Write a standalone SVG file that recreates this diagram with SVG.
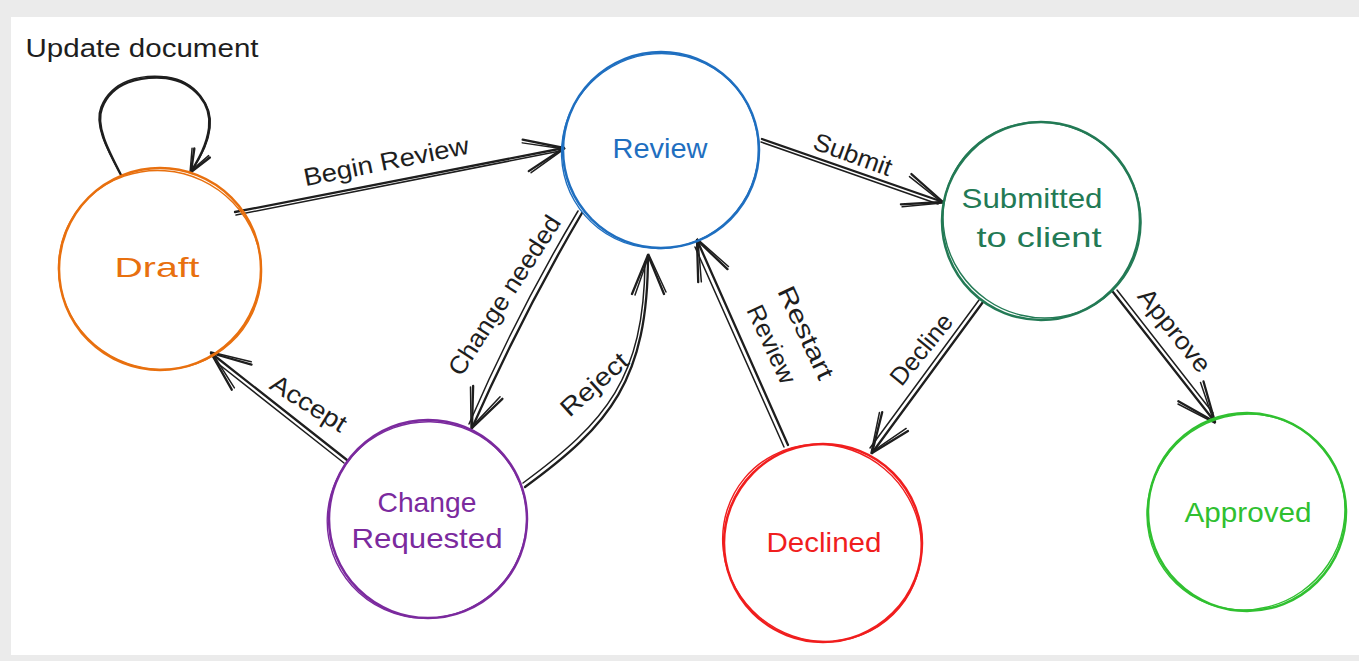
<svg xmlns="http://www.w3.org/2000/svg" width="1359" height="661" viewBox="0 0 1359 661">
<style>
  text { font-family: "Liberation Sans", "DejaVu Sans", sans-serif; }
  .nt { font-size: 28px; text-anchor: middle; }
  .lb { font-size: 25px; text-anchor: middle; dominant-baseline: central; fill: #1e1e1e; }
  .ring { fill: none; stroke-width: 2.5; }
  .ring2 { fill: none; stroke-width: 1.4; }
  .c { fill: none; stroke: #1e1e1e; stroke-width: 2.3; stroke-linecap: round; stroke-linejoin: round; }
  .c2 { fill: none; stroke: #1e1e1e; stroke-width: 1.5; stroke-linecap: round; }
</style>
<defs>
  <marker id="ah" markerUnits="userSpaceOnUse" viewBox="-50 -25 60 50" markerWidth="60" markerHeight="50" refX="0" refY="0" orient="auto" overflow="visible">
    <path d="M-39,-16 L0,0 L-39,16" fill="none" stroke="#1e1e1e" stroke-width="2.3" stroke-linecap="round" stroke-linejoin="round"/>
    <path d="M-40,-13 L0,1 L-37,18" fill="none" stroke="#1e1e1e" stroke-width="1.5" stroke-linecap="round"/>
  </marker>
  <marker id="ahs" markerUnits="userSpaceOnUse" viewBox="-30 -15 40 30" markerWidth="40" markerHeight="30" refX="0" refY="0" orient="auto" overflow="visible">
    <path d="M-22,-9 L0,0 L-22,9" fill="none" stroke="#1e1e1e" stroke-width="2.4" stroke-linecap="round" stroke-linejoin="round"/>
    <path d="M-23,-7 L0,1 L-21,11" fill="none" stroke="#1e1e1e" stroke-width="1.5" stroke-linecap="round"/>
  </marker>
</defs>

<rect x="0" y="0" width="1359" height="661" fill="#ebebeb"/>
<rect x="11" y="17" width="1348" height="638" fill="#ffffff"/>

<g id="connectors">
  <!-- self loop on Draft -->
  <path class="c" d="M121,175 C108,150 95,125 102,108 C112,82 140,76 166,78 C195,82 212,105 209,128 C207,145 198,160 191,172" marker-end="url(#ahs)"/>
  <path class="c2" d="M120,173 C106,148 94,124 101,107 C112,80 141,74 167,77 C196,81 213,106 210,128 C208,146 199,160 192,170"/>
  <!-- Begin Review -->
  <path class="c" d="M235,212 L564,148" marker-end="url(#ah)"/>
  <path class="c2" d="M236,215 L560,151"/>
  <!-- Submit -->
  <path class="c" d="M762,139 L943,202" marker-end="url(#ah)"/>
  <path class="c2" d="M761,142 L938,204"/>
  <!-- Change needed -->
  <path class="c" d="M582,213 Q522,315 472,428" marker-end="url(#ah)"/>
  <path class="c2" d="M578,211 Q517,313 469,424"/>
  <!-- Reject -->
  <path class="c" d="M525,487 C610,425 648,380 648,255" marker-end="url(#ah)"/>
  <path class="c2" d="M523,483 C606,422 644,378 645,262"/>
  <!-- Restart Review -->
  <path class="c" d="M788,445 L697,240" marker-end="url(#ah)"/>
  <path class="c2" d="M784,447 L695,247"/>
  <!-- Decline -->
  <path class="c" d="M983,302 L872,453" marker-end="url(#ah)"/>
  <path class="c2" d="M979,300 L870,448"/>
  <!-- Approve -->
  <path class="c" d="M1113,292 L1215,422" marker-end="url(#ah)"/>
  <path class="c2" d="M1117,290 L1213,413"/>
  <!-- Accept -->
  <path class="c" d="M347,460 L211,353" marker-end="url(#ah)"/>
  <path class="c2" d="M344,463 L216,362"/>
</g>

<g id="edge-labels">
  <text x="142" y="57" font-size="25" fill="#1e1e1e" text-anchor="middle" textLength="233" lengthAdjust="spacingAndGlyphs">Update document</text>
  <text class="lb" transform="translate(386,161) rotate(-11.3)" textLength="168" lengthAdjust="spacingAndGlyphs">Begin Review</text>
  <text class="lb" transform="translate(853,154) rotate(20)" textLength="82" lengthAdjust="spacingAndGlyphs">Submit</text>
  <text class="lb" transform="translate(504,295) rotate(-57)" textLength="185" lengthAdjust="spacingAndGlyphs">Change needed</text>
  <text class="lb" transform="translate(594,384) rotate(-42)" textLength="82" lengthAdjust="spacingAndGlyphs">Reject</text>
  <g transform="translate(790,340) rotate(65)">
    <text class="lb" x="0" y="-18" textLength="100" lengthAdjust="spacingAndGlyphs">Restart</text>
    <text class="lb" x="-4" y="18" textLength="84" lengthAdjust="spacingAndGlyphs">Review</text>
  </g>
  <text class="lb" transform="translate(921,349) rotate(-51)" textLength="84" lengthAdjust="spacingAndGlyphs">Decline</text>
  <text class="lb" transform="translate(1175,330) rotate(51)" textLength="100" lengthAdjust="spacingAndGlyphs">Approve</text>
  <text class="lb" transform="translate(309,403) rotate(32)" textLength="85" lengthAdjust="spacingAndGlyphs">Accept</text>
</g>

<g id="draft">
  <circle class="ring" cx="160" cy="269" r="101" stroke="#e8700f"/>
  <ellipse class="ring2" cx="160" cy="270" rx="102" ry="99" transform="rotate(25 160 270)" stroke="#e8700f"/>
  <text class="nt" x="157" y="277" fill="#e8700f" textLength="85" lengthAdjust="spacingAndGlyphs">Draft</text>
</g>

<g id="review">
  <circle class="ring" cx="661" cy="150" r="98" stroke="#1f6fc0"/>
  <ellipse class="ring2" cx="660" cy="151" rx="99" ry="97" transform="rotate(-30 660 151)" stroke="#1f6fc0"/>
  <text class="nt" x="660" y="158" fill="#1f6fc0" textLength="95" lengthAdjust="spacingAndGlyphs">Review</text>
</g>

<g id="submitted">
  <circle class="ring" cx="1041" cy="221" r="99" stroke="#237a55"/>
  <ellipse class="ring2" cx="1042" cy="220" rx="100" ry="97" transform="rotate(35 1042 220)" stroke="#237a55"/>
  <text class="nt" x="1032" y="208" fill="#237a55" textLength="141" lengthAdjust="spacingAndGlyphs">Submitted</text>
  <text class="nt" x="1039" y="247" fill="#237a55" textLength="125" lengthAdjust="spacingAndGlyphs">to client</text>
</g>

<g id="change-requested">
  <circle class="ring" cx="428" cy="519" r="99" stroke="#7b2a9e"/>
  <ellipse class="ring2" cx="427" cy="520" rx="100" ry="98" transform="rotate(-20 427 520)" stroke="#7b2a9e"/>
  <text class="nt" x="427" y="512" fill="#7b2a9e" textLength="99" lengthAdjust="spacingAndGlyphs">Change</text>
  <text class="nt" x="427" y="548" fill="#7b2a9e" textLength="151" lengthAdjust="spacingAndGlyphs">Requested</text>
</g>

<g id="declined">
  <circle class="ring" cx="823" cy="543" r="99" stroke="#f01e1e"/>
  <ellipse class="ring2" cx="822" cy="543" rx="101" ry="97" transform="rotate(40 822 543)" stroke="#f01e1e"/>
  <text class="nt" x="824" y="552" fill="#f01e1e" textLength="115" lengthAdjust="spacingAndGlyphs">Declined</text>
</g>

<g id="approved">
  <circle class="ring" cx="1247" cy="512" r="99" stroke="#30c030"/>
  <ellipse class="ring2" cx="1246" cy="512" rx="100" ry="97" transform="rotate(-35 1246 512)" stroke="#30c030"/>
  <text class="nt" x="1248" y="522" fill="#30c030" textLength="127" lengthAdjust="spacingAndGlyphs">Approved</text>
</g>
</svg>
